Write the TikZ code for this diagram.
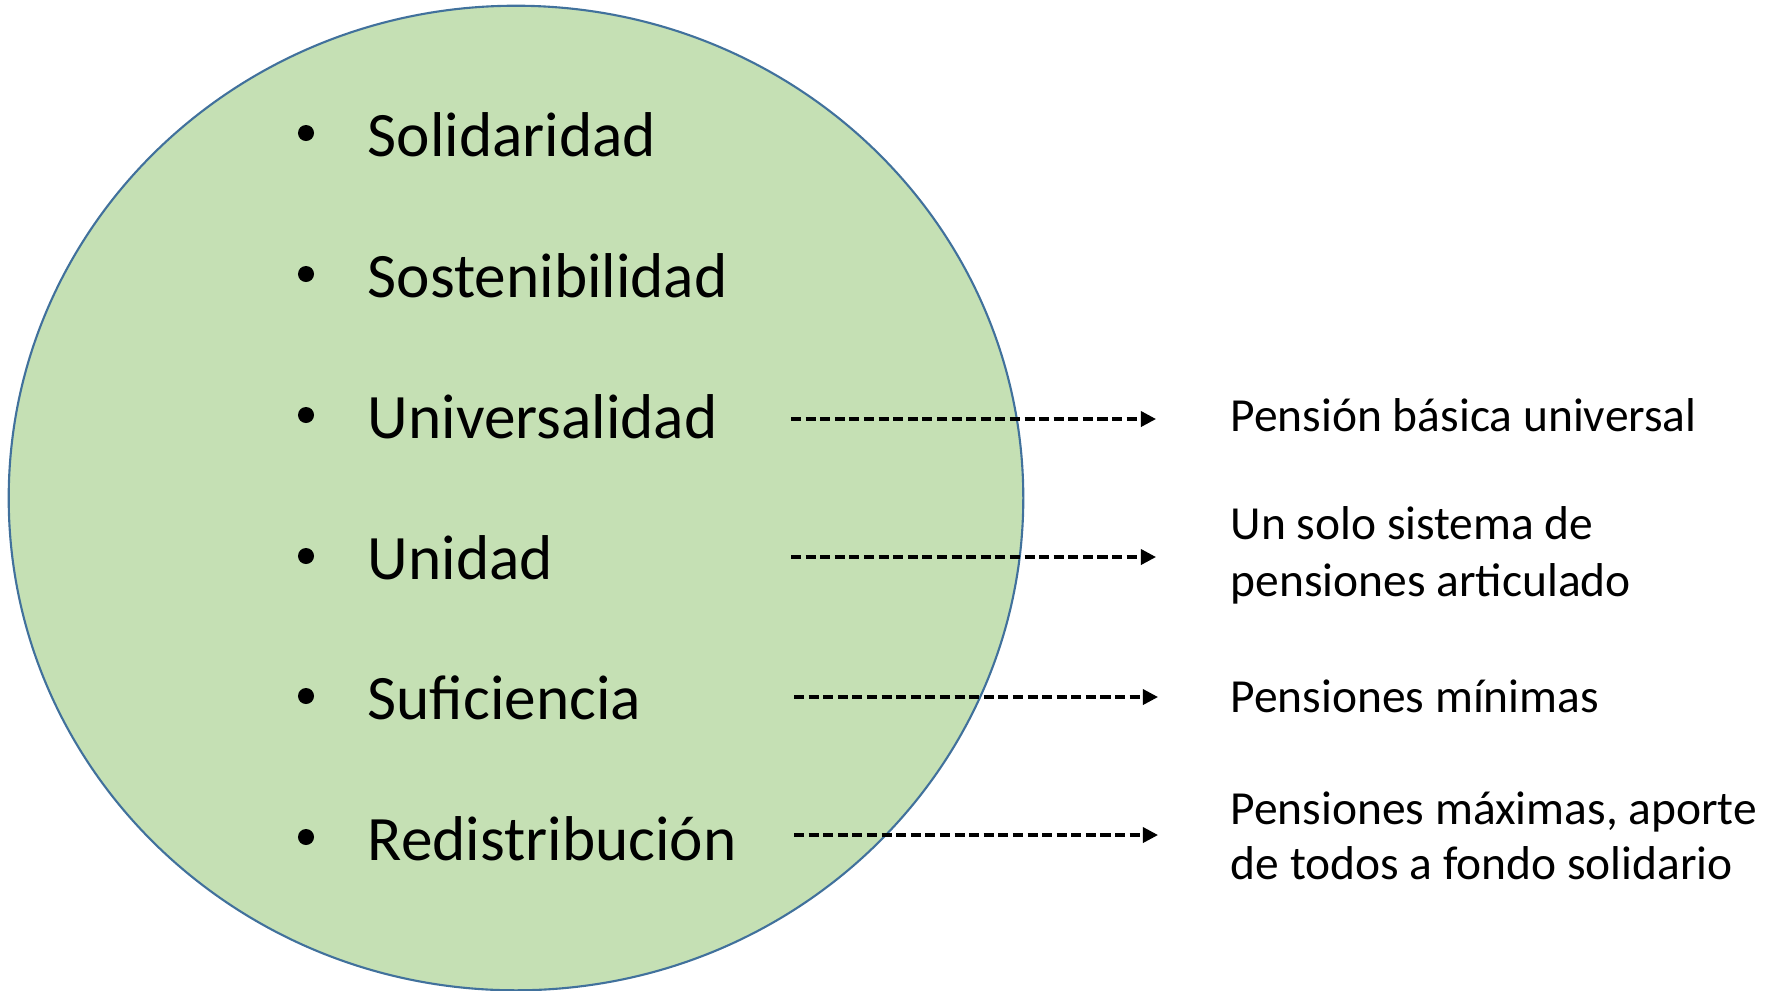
\documentclass[tikz,border=0pt]{standalone}
\usepackage{fontspec}
\setmainfont{Carlito}
\usetikzlibrary{arrows.meta,shapes.geometric}
\definecolor{ellfill}{HTML}{C5E0B4}
\definecolor{elldraw}{HTML}{41719C}
\tikzset{
  big/.style={font=\fontsize{18}{21.6}\selectfont, inner sep=0pt, anchor=base west},
  bul/.style={circle, fill=black, inner sep=0pt, minimum size=0.16cm},
  small/.style={font=\fontsize{13.5}{16.2}\selectfont, inner sep=0pt, anchor=base west},
  darrow/.style={line width=0.95pt, dash pattern=on 2.85pt off 1.3pt, -{Triangle[length=4.3pt,width=4.3pt]}}
}
\begin{document}
\begin{tikzpicture}[x=0.01cm,y=-0.01cm]
\useasboundingbox (0,0) rectangle (1779,990);
\node[ellipse, draw=elldraw, fill=ellfill, line width=0.6pt, minimum width=10.14cm, minimum height=9.84cm, inner sep=0pt] (ell) at (516,498) {};
\foreach \n/\t/\y in {s1/Solidaridad/156, s2/Sostenibilidad/297, s3/Universalidad/438, s4/Unidad/579, s5/Suficiencia/719, s6/Redistribución/860}{
  \node[bul] (b\n) at (306,\y-23) {};
  \node[big] (\n) at (367,\y) {\t};
}
\node[small] (r1) at (1230,431) {Pensión básica universal};
\node[small] (r2a) at (1230,539) {Un solo sistema de};
\node[small] (r2b) at (1230,596) {pensiones articulado};
\node[small] (r3) at (1230,712) {Pensiones mínimas};
\node[small] (r4a) at (1230,824) {Pensiones máximas, aporte};
\node[small] (r4b) at (1230,879) {de todos a fondo solidario};
\coordinate (a1s) at (791,419); \coordinate (a1e) at (1156,419);
\coordinate (a2s) at (791,557); \coordinate (a2e) at (1156,557);
\coordinate (a3s) at (794,697); \coordinate (a3e) at (1158,697);
\coordinate (a4s) at (794,835); \coordinate (a4e) at (1158,835);
\draw[darrow] (a1s) -- (a1e);
\draw[darrow] (a2s) -- (a2e);
\draw[darrow] (a3s) -- (a3e);
\draw[darrow] (a4s) -- (a4e);
\end{tikzpicture}
\end{document}
